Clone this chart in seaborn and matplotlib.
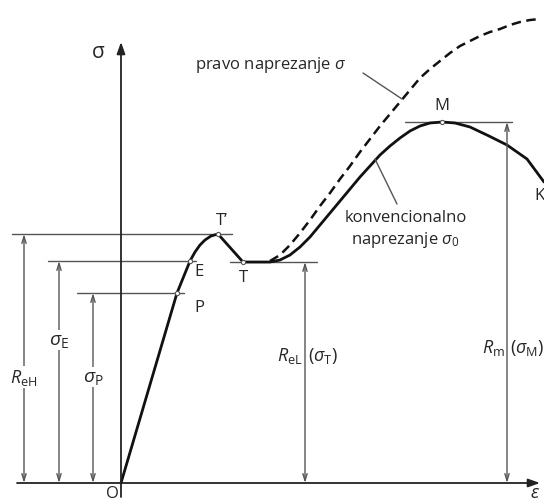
import numpy as np
import pandas as pd
import matplotlib
matplotlib.use("Agg")
import matplotlib.pyplot as plt
import seaborn as sns

# conventional (engineering) stress-strain curve
eps_conv = [0, 56, 69, 74, 79, 84, 90, 97, 122, 149, 159, 169, 179, 189, 199,
            209, 219, 229, 239, 249, 259, 269, 279, 289, 299, 309, 321, 334,
            349, 368, 386, 406, 423]
sig_conv = [0, 190, 222, 231, 238, 243, 247, 249, 221, 221, 223, 228, 236,
            246, 258, 270, 282, 294, 306, 317, 328, 337, 345, 352, 357, 360,
            361, 360, 356, 347, 338, 324, 301]

# true stress curve (dashed)
eps_true = [149, 159, 169, 179, 189, 199, 209, 219, 229, 239, 249, 259, 269,
            279, 289, 299, 309, 319, 329, 339, 349, 359, 369, 379, 389, 399,
            409, 419]
sig_true = [222, 228, 238, 250, 263, 277, 290, 304, 317, 331, 344, 357, 369,
            381, 393, 405, 414, 422, 430, 437, 442, 447, 451, 454, 458, 461,
            463, 464]

# characteristic levels
levels = {"P": 190, "E": 222, "ReH": 249, "ReL": 221, "Rm": 361}
points = {"P": (56, 190), "E": (69, 222), "T'": (97, 249),
          "T": (122, 221), "M": (321, 361)}


def main():
    sns.set_style("white")
    plt.rcParams["font.family"] = ["Open Sans", "DejaVu Sans"]
    plt.rcParams["mathtext.fontset"] = "custom"
    plt.rcParams["mathtext.rm"] = "Open Sans"
    plt.rcParams["mathtext.it"] = "Open Sans:italic"

    fig = plt.figure(figsize=(5.44, 5.02), dpi=100)
    ax = fig.add_axes([0, 0, 1, 1])
    ax.set_xlim(-121, 423)
    ax.set_ylim(-18, 484)
    ax.axis("off")

    gray = "#555555"
    dim = dict(color=gray, lw=1.0)

    # axes with arrows
    ax.annotate("", xy=(419, 0), xytext=(-104, 0),
                arrowprops=dict(arrowstyle="-|>,head_length=0.7,head_width=0.25",
                                color="#222222", lw=1.3, shrinkA=0, shrinkB=0))
    ax.annotate("", xy=(0, 441), xytext=(0, -14),
                arrowprops=dict(arrowstyle="-|>,head_length=0.7,head_width=0.25",
                                color="#222222", lw=1.3, shrinkA=0, shrinkB=0))

    # horizontal reference lines
    ax.plot([-109, 111], [levels["ReH"]] * 2, **dim)
    ax.plot([-73, 75], [levels["E"]] * 2, **dim)
    ax.plot([-44, 63], [levels["P"]] * 2, **dim)
    ax.plot([109, 196], [levels["ReL"]] * 2, **dim)
    ax.plot([284, 391], [levels["Rm"]] * 2, **dim)

    # dimension arrows
    arr = dict(arrowstyle="<->,head_length=0.5,head_width=0.15", color=gray,
               lw=1.0, shrinkA=0, shrinkB=0)
    for x, top in [(-97, levels["ReH"]), (-62, levels["E"]), (-28, levels["P"]),
                   (184, levels["ReL"]), (386, levels["Rm"])]:
        ax.annotate("", xy=(x, top), xytext=(x, 0), arrowprops=arr)

    # curves
    conv = pd.DataFrame({"eps": eps_conv, "sig": sig_conv})
    true = pd.DataFrame({"eps": eps_true, "sig": sig_true})
    sns.lineplot(data=conv, x="eps", y="sig", sort=False, ax=ax,
                 color="#111111", lw=2.0)
    sns.lineplot(data=true, x="eps", y="sig", sort=False, ax=ax,
                 color="#111111", lw=1.8, dashes=False, linestyle=(0, (3.8, 2.2)))
    ax.set_xlabel("")
    ax.set_ylabel("")

    for name, (x, y) in points.items():
        ax.plot(x, y, "o", ms=3, mfc="white", mec=gray, mew=0.8, zorder=5)

    # leader lines
    ax.plot([242, 281], [410, 384], color=gray, lw=1.0)
    ax.plot([254, 276], [324, 279], color=gray, lw=1.0)

    fs = 12
    bg = dict(facecolor="white", edgecolor="none", pad=1)
    ax.text(-23, 432, "σ", fontsize=15, ha="center", va="center")
    ax.text(74, 419, "pravo naprezanje $\\sigma$", fontsize=fs, ha="left", va="center")
    ax.text(224, 266, "konvencionalno", fontsize=fs, ha="left", va="center")
    ax.text(230, 244, "naprezanje $\\sigma_0$", fontsize=fs, ha="left", va="center")

    ax.text(101, 263, "T’", fontsize=fs, ha="center", va="center")
    ax.text(78, 212, "E", fontsize=fs, ha="center", va="center")
    ax.text(78, 176, "P", fontsize=fs, ha="center", va="center")
    ax.text(122, 206, "T", fontsize=fs, ha="center", va="center")
    ax.text(321, 378, "M", fontsize=fs, ha="center", va="center")
    ax.text(418, 288, "K", fontsize=fs, ha="center", va="center")
    ax.text(-9, -10, "O", fontsize=fs, ha="center", va="center")
    ax.text(414, -9, "$\\varepsilon$", fontsize=13, ha="center", va="center")

    ax.text(-97, 106, "$R_{\\mathrm{eH}}$", fontsize=13, ha="center",
            va="center", bbox=bg)
    ax.text(-62, 143, "$\\sigma_{\\mathrm{E}}$", fontsize=14, ha="center",
            va="center", bbox=bg)
    ax.text(-28, 106, "$\\sigma_{\\mathrm{P}}$", fontsize=14, ha="center",
            va="center", bbox=bg)
    ax.text(182, 128, "$R_{\\mathrm{eL}}$", fontsize=13, ha="right", va="center")
    ax.text(187, 128, "$(\\sigma_{\\mathrm{T}})$", fontsize=13, ha="left", va="center")
    ax.text(384, 136, "$R_{\\mathrm{m}}$", fontsize=13, ha="right", va="center")
    ax.text(389, 136, "$(\\sigma_{\\mathrm{M}})$", fontsize=13, ha="left", va="center")

    fig.savefig("out.png", dpi=100)
    plt.close(fig)


if __name__ == "__main__":
    main()
